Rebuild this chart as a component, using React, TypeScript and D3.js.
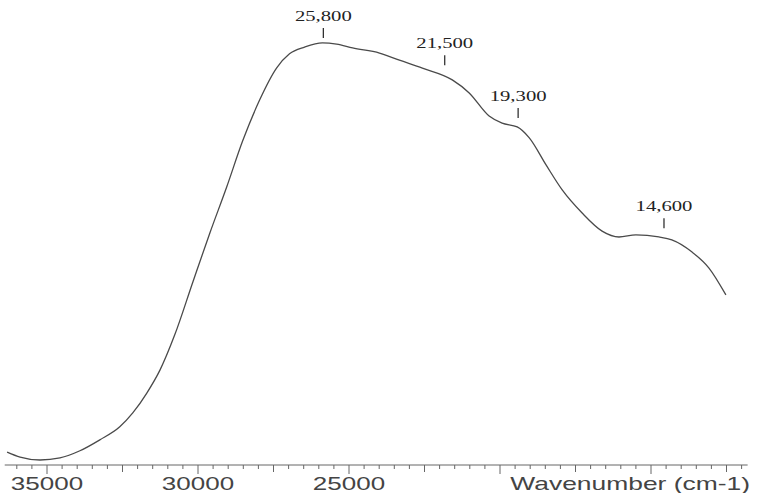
import React from "react";
import * as d3 from "d3";

// Spectrum trace (wavenumber in cm-1, relative absorbance)
const wavenumbers = [
  36320, 35890, 35230, 34570, 33910, 33250, 32590, 32160, 31690, 31260,
  30770, 30170, 29610, 29050, 28520, 27960, 27400, 26970, 26470, 25880,
  25410, 24880, 23990, 23330, 22570, 21580, 21020, 20360, 19930, 19430,
  19030, 18470, 17940, 17280, 16620, 16060, 15500, 14740, 14310, 13640,
  13080, 12520,
];
const absorbance = [
  0.019, 0.007, 0.0, 0.005, 0.022, 0.048, 0.079, 0.112, 0.160, 0.214,
  0.298, 0.424, 0.540, 0.650, 0.760, 0.857, 0.933, 0.967, 0.983, 0.993,
  0.990, 0.981, 0.969, 0.952, 0.933, 0.905, 0.874, 0.819, 0.802, 0.793,
  0.767, 0.702, 0.643, 0.588, 0.545, 0.531, 0.536, 0.531, 0.524, 0.495,
  0.457, 0.393,
];

// Peak annotations
const peakLabels = ["25,800", "21,500", "19,300", "14,600"];
const peakPositions = [25850, 21830, 19400, 14570];
const peakLevels = [1.005, 0.94, 0.814, 0.552];

// Axis
const axisLabelValues = [35000, 30000, 25000];
const axisTitle = "Wavenumber (cm-1)";

export default function App() {
  const W = 758;
  const H = 493;
  const x = d3.scaleLinear().domain([35000, 15000]).range([47, 651]);
  const y = d3.scaleLinear().domain([0, 1]).range([460, 40]);
  const axisY = 465;

  const pts = wavenumbers.map((w, i) => [w, absorbance[i]] as [number, number]);
  const line = d3
    .line<[number, number]>()
    .x((d) => x(d[0]))
    .y((d) => y(d[1]))
    .curve(d3.curveMonotoneX);

  const ticks = d3.range(12000, 36001, 500);
  const stretch = 1.37;

  return (
    <svg
      width={W}
      height={H}
      style={{ position: "absolute", left: 0, top: 0, background: "#fff" }}
    >
      <rect x={0} y={0} width={W} height={H} fill="#fff" />
      <path d={line(pts) || ""} fill="none" stroke="#4a4a4a" strokeWidth={1.3} />

      {/* axis */}
      <line x1={x(36400)} x2={x(11800)} y1={axisY} y2={axisY} stroke="#666" strokeWidth={1} />
      {ticks.map((t) => {
        const len = t % 5000 === 0 ? 9 : t % 2500 === 0 ? 7 : 4;
        return (
          <line
            key={t}
            x1={x(t)}
            x2={x(t)}
            y1={axisY}
            y2={axisY + len}
            stroke="#666"
            strokeWidth={1}
          />
        );
      })}
      {axisLabelValues.map((v) => (
        <text
          key={v}
          transform={`translate(${x(v)},490) scale(${stretch},1)`}
          textAnchor="middle"
          fontFamily="Liberation Sans, Arial, sans-serif"
          fontSize={19}
          fill="#444"
        >
          {v}
        </text>
      ))}
      <text
        transform={`translate(750,490) scale(1.39,1)`}
        textAnchor="end"
        fontFamily="Liberation Sans, Arial, sans-serif"
        fontSize={19}
        fill="#444"
      >
        {axisTitle}
      </text>

      {/* peak annotations */}
      {peakLabels.map((lab, i) => {
        const px = x(peakPositions[i]);
        const py = y(peakLevels[i]);
        return (
          <g key={lab}>
            <line x1={px} x2={px} y1={py} y2={py - 10} stroke="#222" strokeWidth={1.2} />
            <text
              transform={`translate(${px},${py - 17}) scale(1.38,1)`}
              textAnchor="middle"
              fontFamily="Liberation Serif, Times New Roman, serif"
              fontSize={15}
              fill="#222"
            >
              {lab}
            </text>
          </g>
        );
      })}
    </svg>
  );
}
